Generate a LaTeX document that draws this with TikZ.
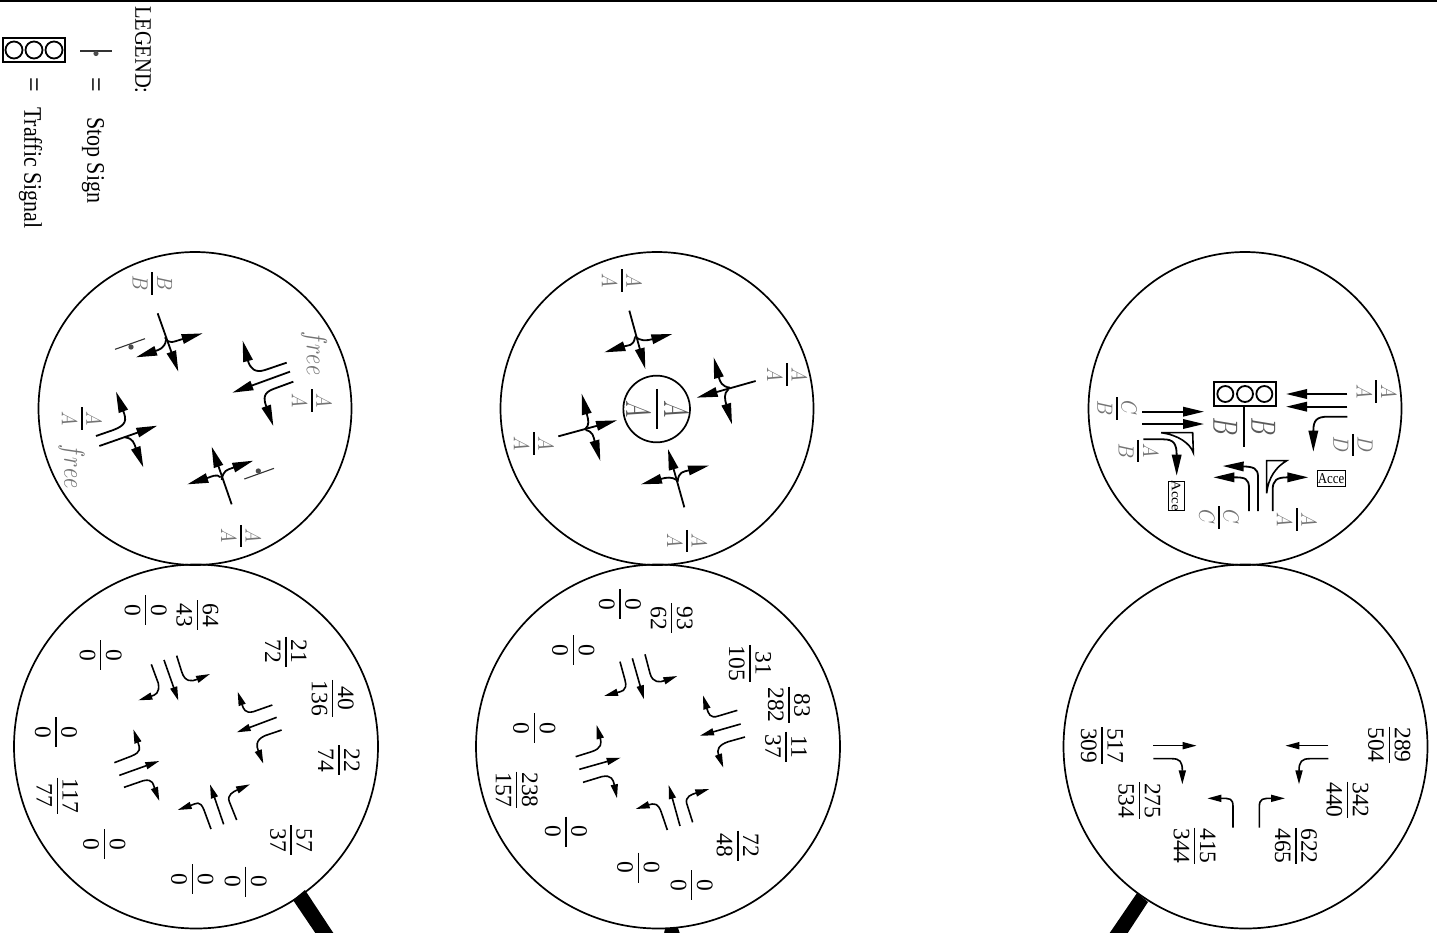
\documentclass[tikz,border=0pt]{standalone}
\usepackage{amsmath}
\usepackage{fontspec}
\setmainfont{Liberation Serif}
\usetikzlibrary{arrows.meta}
\tikzset{
  x=1pt,y=-1pt,
  ring/.style={draw=black,line width=1.7pt},
  big/.style={line width=1.8pt,-{Triangle[length=21pt,width=9.5pt]}},
  small/.style={line width=1.6pt,-{Triangle[length=14pt,width=7pt]}},
  island/.style={draw=black,line width=1.6pt},
  stopline/.style={draw=black!80,line width=1.1pt},
  stopdot/.style={fill=black!70},
  handle/.style={fill=black},
  sigbox/.style={draw=black,line width=2pt},
  sigring/.style={draw=black,line width=1.8pt},
  lab/.style={rotate=-90,inner sep=0pt,outer sep=0pt},
  letter/.style={lab,text=black!55,xscale=1.9,yscale=2.2},
  bigletter/.style={lab,text=black!65,xscale=2.3,yscale=3.5},
  word/.style={lab,text=black!55,xscale=2.2,yscale=2.9},
  digits/.style={lab,font=\fontsize{23.5}{24}\selectfont},
  legend/.style={lab,yscale=1.15,font=\fontsize{22}{24}\selectfont},
  accebox/.style={draw=black,line width=1pt},
  accetext/.style={inner sep=0pt,font=\fontsize{15}{16}\selectfont,xscale=0.86},
}
\newcommand\genfr[4]{\vbox{\offinterlineskip\halign{\hfil##\hfil\cr
  $#3$\cr\noalign{\kern1.7pt}{\color{black}\rule{#1}{#2}}\cr\noalign{\kern1.7pt}$#4$\cr}}}
\newcommand\lfr[2]{\genfr{11.8pt}{0.9pt}{#1}{#2}}
\newcommand\bfr[2]{\genfr{17.4pt}{0.6pt}{#1}{#2}}
\newdimen\barlen
\newcommand\nfr[2]{\setbox0\hbox{#1}\setbox2\hbox{#2}%
  \barlen=\wd0 \ifdim\wd2>\barlen \barlen=\wd2\fi
  \advance\barlen by 1.5pt \ifdim\barlen<30pt \barlen=30pt\fi
  \vbox{\offinterlineskip\halign{\hfil##\hfil\cr
   #1\cr\noalign{\kern4.5pt}
   \rule{\barlen}{1.5pt}\cr\noalign{\kern4.5pt}
   #2\cr}}}
\begin{document}
\begin{tikzpicture}
\useasboundingbox (0,0) rectangle (1437,932);
\clip (0,0) rectangle (1437,932);
\draw[line width=2pt] (0,0.5) -- (1437,0.5);

% legend
\node[legend,anchor=west,font=\fontsize{20.5}{24}\selectfont] (legendtitle) at (143,6) {LEGEND:};
\draw[stopline] (80,51) -- (112,51);
\fill[stopdot] (96,53.5) circle (2.6);
\node[legend,anchor=west,font=\fontsize{26}{26}\selectfont] (eqstop) at (93,77.5) {=};
\node[legend,anchor=west] (stoptext) at (93,117) {Stop Sign};
\draw[sigbox] (3,38) rectangle (65,61.5);
\foreach \c in {14,34,54} \draw[sigring] (\c,50) circle (8.5);
\node[legend,anchor=west,font=\fontsize{26}{26}\selectfont] (eqsig) at (31,77.5) {=};
\node[legend,anchor=west] (sigtext) at (30.5,107) {Traffic Signal};

% circles
\draw[ring] (195,408.5) circle (156.5);
\draw[ring] (657,408.5) circle (156.5);
\draw[ring] (1245,408.5) circle (156.5);
\draw[ring] (196,746.5) circle (182);
\draw[ring] (658,746.5) circle (182);
\draw[ring] (1245.5,746.5) circle (182);

% handles
\fill[handle] (293,900) -- (305,890) -- (334,934) -- (316,934) -- cycle;
\fill[handle] (664,934) -- (665,928) -- (678,928) -- (680,934) -- cycle;
\fill[handle] (1137,893) -- (1148,902) -- (1127,934) -- (1109,934) -- cycle;

% ---- circle 1
\begin{scope}[shift={(30,250)},scale=1/3]
\draw[big] (383,190) -- (445,365);
\draw[big] (405,262) .. controls (415,285) and (430,275) .. (518,250);
\draw[big] (408,270) .. controls (405,295) and (385,300) .. (318,322);
\draw[stopline] (255,298) -- (345,266);
\fill[stopdot] (303,291) circle (8);
\draw[big] (770,338) -- (705,360) .. controls (675,370) and (660,355) .. (638,272);
\draw[big] (780,365) -- (607,428);
\draw[big] (790,395) -- (730,417) .. controls (700,428) and (700,445) .. (730,528);
\draw[big] (605,763) -- (545,590);
\draw[big] (575,690) .. controls (580,660) and (590,660) .. (670,632);
\draw[big] (572,682) .. controls (560,670) and (545,680) .. (472,703);
\draw[stopline] (643,687) -- (732,655);
\fill[stopdot] (685,663) circle (8);
\draw[big] (198,558) -- (250,540) .. controls (290,525) and (290,510) .. (258,425);
\draw[big] (208,588) -- (382,527);
\draw[big] (285,562) .. controls (310,565) and (312,580) .. (340,652);
\node[letter] (c1a) at (367,101) {\lfr BB};
\node[letter] (c1b) at (845,452) {\lfr AA};
\node[letter] (c1c) at (155,505) {\lfr AA};
\node[letter] (c1d) at (633,858) {\lfr AA};
\node[word] (c1e) at (852,310) {$free$};
\node[word] (c1f) at (125,650) {$free$};
\end{scope}

% ---- circle 2
\begin{scope}[shift={(495,250)},scale=1/3]
\draw[big] (403,182) -- (451,357);
\draw[big] (420,258) .. controls (435,275) and (455,272) .. (532,252);
\draw[big] (420,262) .. controls (415,290) and (400,285) .. (328,307);
\draw[big] (782,393) -- (605,443);
\draw[big] (705,413) .. controls (680,410) and (675,395) .. (656,322);
\draw[big] (700,418) .. controls (685,430) and (690,450) .. (711,523);
\draw[big] (568,772) -- (519,597);
\draw[big] (548,695) .. controls (550,665) and (565,665) .. (642,647);
\draw[big] (545,690) .. controls (530,680) and (515,682) .. (438,703);
\draw[big] (190,559) -- (366,511);
\draw[big] (270,538) .. controls (285,525) and (280,510) .. (260,431);
\draw[big] (272,540) .. controls (295,545) and (295,560) .. (316,633);
\draw[ring] (485,477) circle (100);
\node[bigletter] (c2c) at (486,477) {\bfr AA};
\node[letter] (c2a) at (380,92) {\lfr AA};
\node[letter] (c2b) at (876,373) {\lfr AA};
\node[letter] (c2d) at (116,580) {\lfr AA};
\node[letter] (c2e) at (576,873) {\lfr AA};
\end{scope}

% ---- circle 3
\begin{scope}[shift={(1085,250)},scale=1/3]
\draw[sigbox] (387,397) rectangle (573,467);
\foreach \c in {421,480,538} \draw[sigring] (\c,432) circle (24);
\node[bigletter] (c3c) at (478,530) {\bfr BB};
\draw[big] (172,485) -- (357,485);
\draw[big] (172,522) -- (357,522);
\draw[big] (175,568) -- (235,568) .. controls (265,568) and (275,580) .. (275,677);
\draw[big] (787,432) -- (603,432);
\draw[big] (787,470) -- (603,470);
\draw[big] (787,500) -- (730,500) .. controls (695,500) and (685,510) .. (685,605);
\draw[big] (492,783) -- (492,715) .. controls (492,685) and (480,682) .. (385,682);
\draw[big] (519,783) -- (519,680) .. controls (519,655) and (505,650) .. (413,648);
\draw[big] (563,783) -- (563,720) .. controls (563,690) and (575,682) .. (670,682);
\draw[island] (228,548) -- (323,548) -- (325,608) .. controls (315,580) and (280,555) .. (228,548);
\draw[island] (545,730) -- (545,632) -- (605,632) .. controls (575,650) and (550,680) .. (545,730);
\draw[accebox] (696,662) rectangle (780,708);
\node[accetext] (acce1) at (738,685) {Acce};
\draw[accebox] (250,695) rectangle (298,780);
\node[accetext,rotate=-90] (acce2) at (273,737) {Acce};
\node[letter] (c3a) at (874,425) {\lfr AA};
\node[letter] (c3b) at (804,585) {\lfr DD};
\node[letter] (c3d) at (635,808) {\lfr AA};
\node[letter] (c3e) at (402,802) {\lfr CC};
\node[letter] (c3f) at (96,475) {\lfr CB};
\node[letter] (c3g) at (160,603) {\lfr AB};
\end{scope}

% ---- bottom left
\begin{scope}[shift={(10,565)},scale=1/3]
\draw[small] (424,298) -- (445,355) .. controls (450,385) and (435,390) .. (385,406);
\draw[small] (462,285) -- (505,407);
\draw[small] (500,272) -- (515,320) .. controls (525,352) and (545,350) .. (600,327);
\draw[small] (787,420) -- (730,440) .. controls (705,447) and (700,430) .. (683,380);
\draw[small] (800,457) -- (680,502);
\draw[small] (815,495) -- (765,512) .. controls (735,525) and (740,545) .. (760,596);
\draw[small] (603,792) -- (582,735) .. controls (570,705) and (560,715) .. (503,735);
\draw[small] (641,778) -- (600,658);
\draw[small] (680,765) -- (658,710) .. controls (650,690) and (670,680) .. (720,658);
\draw[small] (313,593) -- (365,573) .. controls (395,560) and (390,550) .. (370,493);
\draw[small] (328,631) -- (448,588);
\draw[small] (342,667) -- (400,647) .. controls (430,640) and (430,660) .. (448,708);
\node[digits] (d1a) at (562,150) {\nfr{64}{43}};
\node[digits] (d1b) at (407,135) {\nfr{0}{0}};
\node[digits] (d1c) at (828,260) {\nfr{21}{72}};
\node[digits] (d1d) at (272,270) {\nfr{0}{0}};
\node[digits] (d1e) at (968,400) {\nfr{40}{136}};
\node[digits] (d1f) at (987,585) {\nfr{22}{74}};
\node[digits] (d1g) at (843,825) {\nfr{57}{37}};
\node[digits] (d1h) at (707,950) {\nfr{0}{0}};
\node[digits] (d1i) at (547,942) {\nfr{0}{0}};
\node[digits] (d1j) at (283,837) {\nfr{0}{0}};
\node[digits] (d1k) at (142,692) {\nfr{117}{77}};
\node[digits] (d1l) at (138,502) {\nfr{0}{0}};
\end{scope}

% ---- bottom middle
\begin{scope}[shift={(470,565)},scale=1/3]
\draw[small] (450,290) -- (465,345) .. controls (475,380) and (450,380) .. (402,393);
\draw[small] (487,280) -- (522,403);
\draw[small] (525,268) -- (540,325) .. controls (548,355) and (570,352) .. (622,333);
\draw[small] (802,436) -- (745,453) .. controls (720,462) and (715,445) .. (699,391);
\draw[small] (812,477) -- (690,512);
\draw[small] (825,516) -- (775,530) .. controls (745,540) and (740,555) .. (760,608);
\draw[small] (592,795) -- (575,745) .. controls (565,712) and (550,715) .. (497,732);
\draw[small] (630,783) -- (596,660);
\draw[small] (668,772) -- (650,715) .. controls (645,695) and (665,688) .. (718,672);
\draw[small] (317,575) -- (365,560) .. controls (395,550) and (395,535) .. (380,480);
\draw[small] (328,613) -- (452,578);
\draw[small] (339,652) -- (395,635) .. controls (425,628) and (430,645) .. (441,700);
\node[digits] (d2a) at (605,160) {\nfr{93}{62}};
\node[digits] (d2b) at (450,118) {\nfr{0}{0}};
\node[digits] (d2c) at (840,295) {\nfr{31}{105}};
\node[digits] (d2d) at (310,255) {\nfr{0}{0}};
\node[digits] (d2e) at (957,420) {\nfr{83}{282}};
\node[digits] (d2f) at (948,545) {\nfr{11}{37}};
\node[digits] (d2g) at (803,842) {\nfr{72}{48}};
\node[digits] (d2h) at (665,960) {\nfr{0}{0}};
\node[digits] (d2i) at (505,908) {\nfr{0}{0}};
\node[digits] (d2j) at (288,800) {\nfr{0}{0}};
\node[digits] (d2k) at (140,675) {\nfr{238}{157}};
\node[digits] (d2l) at (193,490) {\nfr{0}{0}};
\end{scope}

% ---- bottom right
\begin{scope}[shift={(1060,565)},scale=1/3]
\draw[small] (805,542) -- (676,542);
\draw[small] (805,581) -- (750,581) .. controls (725,581) and (717,590) .. (717,658);
\draw[small] (280,542) -- (410,542);
\draw[small] (280,581) -- (335,581) .. controls (360,581) and (367,590) .. (367,658);
\draw[small] (519,788) -- (519,725) .. controls (519,700) and (510,700) .. (442,700);
\draw[small] (598,788) -- (598,725) .. controls (598,700) and (610,700) .. (675,700);
\node[digits] (d3a) at (988,540) {\nfr{289}{504}};
\node[digits] (d3b) at (126,542) {\nfr{517}{309}};
\node[digits] (d3c) at (862,705) {\nfr{342}{440}};
\node[digits] (d3d) at (238,707) {\nfr{275}{534}};
\node[digits] (d3e) at (404,843) {\nfr{415}{344}};
\node[digits] (d3f) at (708,843) {\nfr{622}{465}};
\end{scope}
\end{tikzpicture}
\end{document}
